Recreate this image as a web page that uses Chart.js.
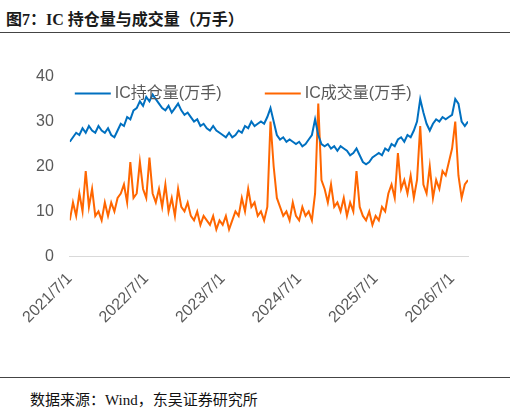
<!DOCTYPE html>
<html><head><meta charset="utf-8">
<script src="https://cdn.jsdelivr.net/npm/chart.js@4"></script>
<style>
body{margin:0;width:510px;height:416px;background:#fff;position:relative;font-family:"Liberation Serif","Noto Sans CJK SC",serif}
#t{position:absolute;left:6px;top:6px;font-size:16px;font-weight:bold;color:#1a1a1a}
#l1{position:absolute;left:0;top:32px;width:510px;border-top:1px solid #444}
#l2{position:absolute;left:0;top:377px;width:510px;border-top:1px solid #444}
#f{position:absolute;left:30px;top:388px;font-size:15px;color:#111}
#c{position:absolute;left:0;top:59px;width:510px;height:276px}
</style></head><body>
<div id="t">图7：IC 持仓量与成交量（万手）</div>
<div id="l1"></div>
<div id="c"><canvas id="cv"></canvas></div>
<div id="l2"></div>
<div id="f">数据来源：Wind，东吴证券研究所</div>
<script>
// half-month steps starting 2021/7/1
var holdings = [25.5,26.5,27.5,27,28.5,27.5,29,28,27.5,29,28,27.5,
  28.5,27,26.5,28,29.5,29,31,30.5,32.5,33,34.5,33.5,
  35.5,34.5,36,35,34,33,32.5,33.5,32,33,34,32.5,
  31.5,32,31,30,30.5,29,29.5,28.5,28,29,28,27.5,
  27,26.5,27.5,26.5,27,28,27.5,29,28.5,30,29,29.5,
  30,29.5,31,33,30,27,26,26.5,25.5,26,25.5,25,
  25.5,24.5,25,26,27,30.5,27,25,24.5,25,24,24.5,
  23.5,24.5,24,23.5,22.5,23,24,22.5,21,20.5,21,22,
  22.5,23,22.5,24,23.5,25,24.5,26,26.5,25.5,27,26.5,
  28,30,35,32,29.5,28,29.5,30.5,30,31,30.5,31,
  31.5,35,34,30,29,30];
var volume = [8,12,9,14,10,19,11,15,9,10,8,12,
  9,12,10,13,14,16,12,21,13,14,21,15,
  13,22,14,12,15,11,16,10,13,9,15,11,
  10,12,9,8,10,7,9,8,7,9,6,8,
  7,9,6,8,10,9,13,10,15,11,12,9,
  10,8,11,30,20,13,11,9,10,8,12,9,
  8,11,9,10,8,14,34,17,15,12,16,11,
  12,10,13,9,12,10,19,11,9,8,10,7,
  9,8,11,10,14,16,13,23,15,17,14,18,
  13,17,29,16,14,20,13,17,15,19,18,21,
  24,30,18,13,16,17];
var tickYears = [2021,2022,2023,2024,2025,2026];

function pts(arr){ return arr.map(function(v,i){ return {x:i/2, y:v}; }); }

// one-row legend drawn inside the plot
var inLegend = {
  id:'inLegend',
  afterDraw:function(chart){
    var ctx = chart.ctx, a = chart.chartArea, y = a.top + 17;
    var xs = [a.left + 5, a.left + 195];
    ctx.save();
    ctx.font = '16px "Liberation Sans", "Noto Sans CJK SC"';
    ctx.textBaseline = 'middle';
    chart.data.datasets.forEach(function(ds, i){
      ctx.strokeStyle = ds.borderColor; ctx.lineWidth = 2;
      ctx.beginPath(); ctx.moveTo(xs[i], y); ctx.lineTo(xs[i] + 36, y); ctx.stroke();
      ctx.fillStyle = '#595959';
      ctx.fillText(ds.label, xs[i] + 40, y);
    });
    ctx.restore();
  }
};

new Chart(document.getElementById('cv'), {
  type:'line',
  data:{datasets:[
    {label:'IC持仓量(万手)', data:pts(holdings), borderColor:'#0070C0', backgroundColor:'#0070C0', borderWidth:2, pointRadius:0, tension:0},
    {label:'IC成交量(万手)', data:pts(volume), borderColor:'#FF6600', backgroundColor:'#FF6600', borderWidth:2, pointRadius:0, tension:0}
  ]},
  plugins:[inLegend],
  options:{
    responsive:true, maintainAspectRatio:false, animation:false,
    layout:{padding:{left:28,right:42,top:8,bottom:0}},
    plugins:{legend:{display:false}, tooltip:{enabled:false}},
    scales:{
      x:{type:'linear', min:0, max:62.5,
        afterBuildTicks:function(ax){ ax.ticks = tickYears.map(function(y,i){ return {value:i*12}; }); },
        ticks:{autoSkip:false, maxRotation:45, minRotation:45, padding:8, color:'#595959', font:{size:16, family:'Liberation Sans'},
          callback:function(v){ return tickYears[v/12] + '/7/1'; }},
        grid:{display:false, drawTicks:true, tickLength:5, color:'#d9d9d9'}, border:{color:'#d9d9d9'}},
      y:{min:0, max:40, ticks:{stepSize:10, color:'#595959', font:{size:16, family:'Liberation Sans'}, padding:8},
        grid:{display:false}, border:{display:false}}
    }
  }
});
</script>
</body></html>
